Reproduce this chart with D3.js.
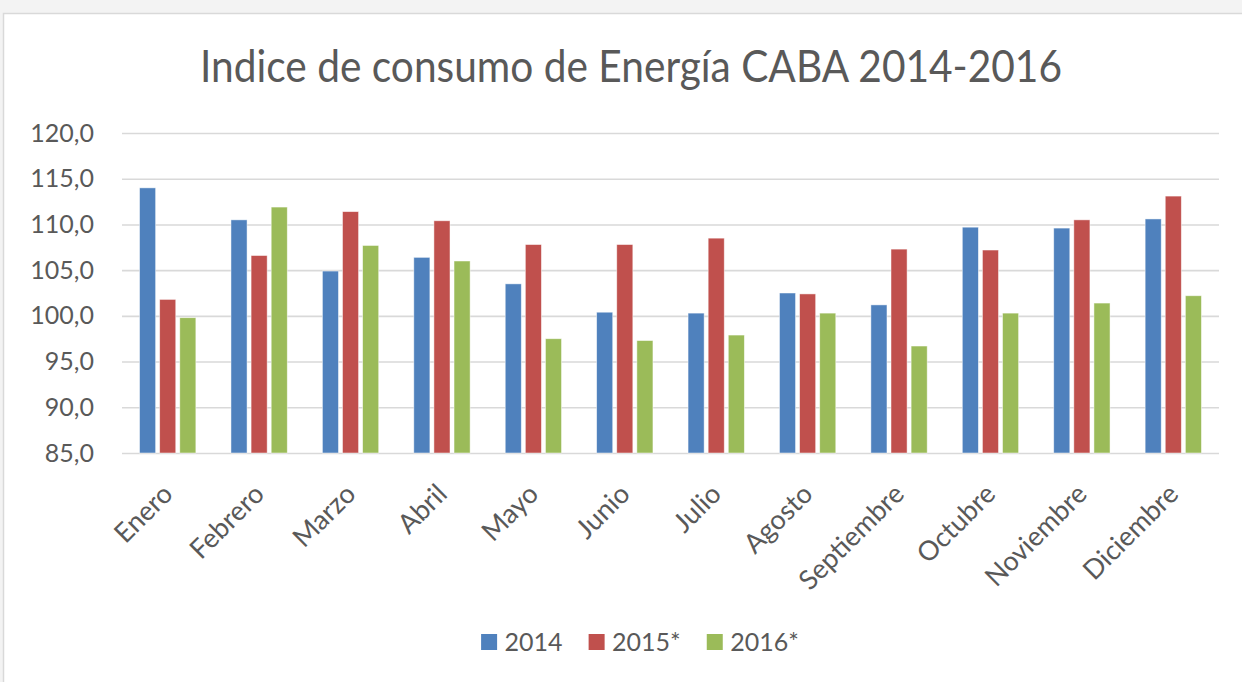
<!DOCTYPE html>
<html lang="es">
<head>
<meta charset="UTF-8">
<title>Indice de consumo de Energía CABA 2014-2016</title>
<script src="https://cdn.jsdelivr.net/npm/d3@7"></script>
<style>
    body {
        margin: 0;
        padding: 0;
        background: #f3f3f3;
        font-family: Lato, "Open Sans", sans-serif;
    }
    svg { display: block; }
</style>
</head>
<body>
<svg id="chart" width="1242" height="682"></svg>
<script>
const months = ["Enero", "Febrero", "Marzo", "Abril", "Mayo", "Junio", "Julio",
    "Agosto", "Septiembre", "Octubre", "Noviembre", "Diciembre"];
const seriesNames = ["2014", "2015*", "2016*"];
const v2014 = [114.0, 110.5, 104.9, 106.4, 103.5, 100.4, 100.3, 102.5, 101.2, 109.7, 109.6, 110.6];
const v2015 = [101.8, 106.6, 111.4, 110.4, 107.8, 107.8, 108.5, 102.4, 107.3, 107.2, 110.5, 113.1];
const v2016 = [99.8, 111.9, 107.7, 106.0, 97.5, 97.3, 97.9, 100.3, 96.7, 100.3, 101.4, 102.2];
const yTicks = [85, 90, 95, 100, 105, 110, 115, 120];
const colors = ["#4f81bd", "#c0504d", "#9bbb59"];

const values = [v2014, v2015, v2016];
const rows = months.map((m, i) => ({ month: m, vals: values.map(s => s[i]) }));

const svg = d3.select("#chart");
const textColor = "#595959";

// chart frame
svg.append("rect")
    .attr("x", 3.5).attr("y", 13.5)
    .attr("width", 1260).attr("height", 700)
    .attr("fill", "#fff")
    .attr("stroke", "#d9d9d9")
    .attr("stroke-width", 1.5);

const plotLeft = 122, plotRight = 1219, plotTop = 133, plotBottom = 453;

svg.append("text")
    .attr("x", 631).attr("y", 82)
    .attr("text-anchor", "middle")
    .attr("fill", textColor)
    .attr("font-size", 44)
    .attr("textLength", 862)
    .attr("lengthAdjust", "spacingAndGlyphs")
    .text("Indice de consumo de Energía CABA 2014-2016");

const y = d3.scaleLinear().domain([85, 120]).range([plotBottom, plotTop]);
const x0 = d3.scaleBand().domain(months).range([plotLeft, plotRight])
    .paddingInner(0.384).paddingOuter(0.192);
const x1 = d3.scaleBand().domain(seriesNames).range([0, x0.bandwidth()])
    .paddingInner(0.2);

const es = d3.formatLocale({ decimal: ",", thousands: ".", grouping: [3], currency: ["$", ""] });

const yAxis = svg.append("g")
    .attr("transform", `translate(${plotLeft},0)`)
    .call(d3.axisLeft(y).tickValues(yTicks).tickFormat(es.format(".1f"))
        .tickSize(-(plotRight - plotLeft)).tickSizeOuter(0).tickPadding(28));
yAxis.select(".domain").remove();
yAxis.selectAll("line").attr("stroke", "#d9d9d9").attr("stroke-width", 1.6);
yAxis.selectAll("text").attr("fill", textColor).attr("font-size", 25)
    .attr("font-family", "Lato, 'Open Sans', sans-serif");

// bars
const groups = svg.append("g").selectAll("g")
    .data(rows)
    .join("g")
    .attr("transform", d => `translate(${x0(d.month)},0)`);

groups.selectAll("rect")
    .data(d => d.vals.map((v, k) => ({ key: seriesNames[k], v, k })))
    .join("rect")
    .attr("x", d => x1(d.key))
    .attr("y", d => y(d.v))
    .attr("width", x1.bandwidth())
    .attr("height", d => y(85) - y(d.v))
    .attr("fill", d => colors[d.k])
    .attr("stroke", "#fff")
    .attr("stroke-opacity", 0.6)
    .attr("stroke-width", 0.8);

// x labels
const xAxis = svg.append("g")
    .attr("transform", `translate(0,${plotBottom})`)
    .call(d3.axisBottom(x0).tickSize(0).tickPadding(0));
xAxis.select(".domain").remove();
xAxis.selectAll("text")
    .attr("fill", textColor)
    .attr("font-size", 27)
    .attr("font-family", "Lato, 'Open Sans', sans-serif")
    .attr("text-anchor", "end")
    .attr("y", 0)
    .attr("dy", "0.35em")
    .attr("transform", "translate(0,36) rotate(-45)");

// legend
const legend = svg.append("g").attr("transform", "translate(0,651)");
const items = legend.selectAll("g").data(seriesNames).join("g");
items.append("rect")
    .attr("y", -17).attr("width", 16).attr("height", 16)
    .attr("fill", (d, i) => colors[i]);
items.append("text")
    .attr("x", 23.5)
    .attr("fill", textColor)
    .attr("font-size", 25)
    .text(d => d);
let pos = 0;
const offsets = [];
items.each(function () {
    offsets.push(pos);
    pos += 23.5 + this.querySelector("text").getComputedTextLength() + 26;
});
const total = pos - 26;
const start = 640 - total / 2;
items.attr("transform", (d, i) => `translate(${start + offsets[i]},0)`);
</script>
</body>
</html>
